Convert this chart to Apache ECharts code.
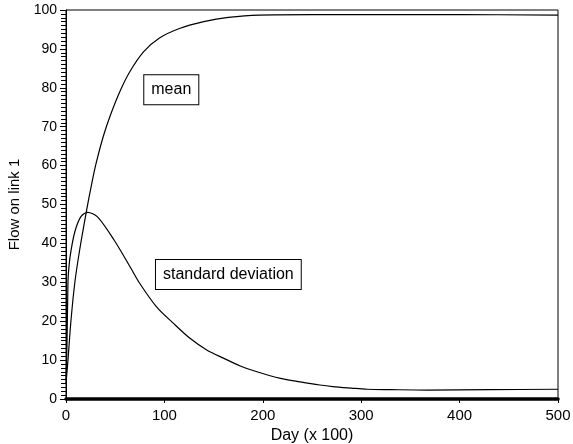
<!DOCTYPE html>
<html>
<head>
<meta charset="utf-8">
<script src="https://cdn.jsdelivr.net/npm/echarts@6/dist/echarts.min.js"></script>
<style>
  html, body { margin: 0; padding: 0; background: #fff; }
  #flowchart { width: 573px; height: 444px; }
</style>
</head>
<body>
<div id="flowchart"></div>
<script>
	// values: [day (x 100), flow]
	var meanData = [
		[0, 4], [2, 10], [5, 20], [9, 30], [14, 38.5], [21, 48.6], [26, 55.2],
		[31, 61], [38, 67.6], [45, 72.9], [55, 79.2], [65, 84.2], [79, 89.3],
		[95, 92.8], [116, 95.3], [140, 97], [165, 98.1], [196, 98.7],
		[250, 98.8], [300, 98.8], [400, 98.8], [500, 98.7]
	];
	var sdData = [
		[0, 5], [1, 14], [2, 30], [3, 34], [5, 38], [9, 43], [15, 46.8],
		[22, 48], [32, 46.8], [49, 40.8], [66, 33.6], [75, 29.7], [92, 23.7],
		[109, 19.5], [126, 15.6], [143, 12.6], [160, 10.5], [177, 8.5],
		[194, 7.0], [218, 5.3], [238, 4.4], [258, 3.6], [271, 3.2],
		[290, 2.8], [306, 2.5], [330, 2.4], [367, 2.3], [430, 2.4], [500, 2.5]
	];
	var meanLabelAt = [107, 79.5];
	var sdLabelAt = [165, 32];

	var myChart = echarts.init(document.getElementById('flowchart'));

	var labelBox = {
		show: true,
		color: '#000',
		fontSize: 16,
		fontFamily: 'Liberation Sans',
		backgroundColor: '#fff',
		borderColor: '#000',
		borderWidth: 1,
		padding: [7, 7, 6, 7],
		position: 'inside'
	};

	option = {
		animation: false,
		textStyle: { fontFamily: 'Liberation Sans', color: '#000' },
		grid: {
			left: 66, right: 15, top: 10, bottom: 45,
			outerBoundsMode: 'none',
			containLabel: false,
			show: true, borderColor: '#000', borderWidth: 1
		},
		xAxis: {
			type: 'value',
			min: 0, max: 500, interval: 100,
			name: 'Day (x 100)',
			nameLocation: 'middle',
			nameGap: 26,
			nameTextStyle: { fontSize: 16, color: '#000' },
			// thick line stands in for the dense tick band under the axis
			axisLine: { lineStyle: { color: '#000', width: 3.5 } },
			axisTick: { show: true, length: 4, lineStyle: { color: '#000' } },
			axisLabel: { fontSize: 15, color: '#000', margin: 9 },
			splitLine: { show: false }
		},
		yAxis: {
			type: 'value',
			min: 0, max: 100, interval: 10,
			name: 'Flow on link 1',
			nameLocation: 'middle',
			nameGap: 44,
			nameTextStyle: { fontSize: 15, color: '#000' },
			axisLine: { lineStyle: { color: '#000', width: 1 } },
			axisTick: { show: true, length: 6, lineStyle: { color: '#000' } },
			minorTick: { show: true, splitNumber: 10, length: 5, lineStyle: { color: '#000', width: 1 } },
			axisLabel: { fontSize: 14, color: '#000', margin: 9 },
			splitLine: { show: false }
		},
		series: [
			{
				name: 'mean',
				type: 'line',
				data: meanData,
				showSymbol: false,
				smooth: 0.35,
				lineStyle: { color: '#000', width: 1.2 },
				markPoint: {
					symbol: 'rect', symbolSize: 0,
					label: Object.assign({ formatter: 'mean' }, labelBox),
					data: [{ coord: meanLabelAt }]
				}
			},
			{
				name: 'standard deviation',
				type: 'line',
				data: sdData,
				showSymbol: false,
				smooth: 0.3,
				lineStyle: { color: '#000', width: 1.2 },
				markPoint: {
					symbol: 'rect', symbolSize: 0,
					label: Object.assign({ formatter: 'standard deviation' }, labelBox),
					data: [{ coord: sdLabelAt }]
				}
			}
		]
	};

	myChart.setOption(option);
</script>
</body>
</html>
